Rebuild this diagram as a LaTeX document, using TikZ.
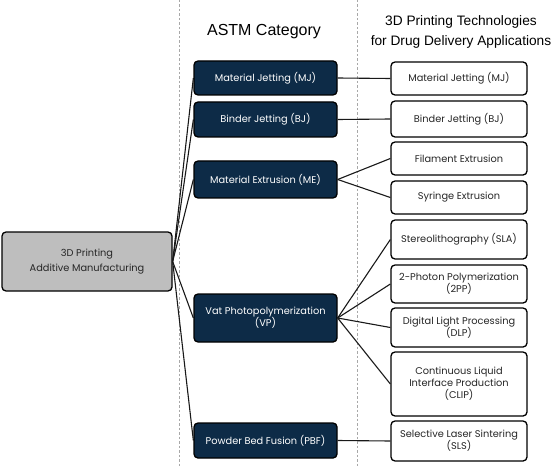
\documentclass[tikz,border=0pt]{standalone}
\usepackage{fontspec}
\setmainfont{Poppins}
\newfontfamily\headfont{Liberation Sans}
\definecolor{navy}{HTML}{0D2B47}
\definecolor{boxgray}{HTML}{BEBEBE}
\definecolor{dashgray}{HTML}{A8A8A8}
\begin{document}
\begin{tikzpicture}[x=1pt,y=-1pt,
  base/.style={draw=black,line width=1.3pt,rounded corners=4pt,align=center,inner sep=2pt,font=\fontsize{9.8}{12}\selectfont},
  cat/.style={base,fill=navy,text=white,minimum width=143pt},
  tech/.style={base,fill=white,text=black!85,minimum width=136pt},
  root/.style={base,fill=boxgray,text=black!85,minimum width=170pt,minimum height=59pt},
  link/.style={line width=1.1pt,draw=black!90},
  sep/.style={draw=dashgray,line width=0.8pt,dash pattern=on 2.5pt off 2pt},
  head/.style={font=\headfont\fontsize{13.7}{19.5}\selectfont,align=center}]
\useasboundingbox (0,0) rectangle (553,470);
\coordinate (s1t) at (179,0); \coordinate (s1b) at (179,466);
\coordinate (s2t) at (357,0); \coordinate (s2b) at (357,466);
\draw[sep] (s1t) -- (s1b);
\draw[sep] (s2t) -- (s2b);
\node[head,font=\headfont\fontsize{16}{19}\selectfont] (h1) at (264,32) {ASTM Category};
\node[head] (h2) at (461,32) {3D Printing Technologies\\for Drug Delivery Applications};
\node[root] (root) at (87,261.5) {3D Printing\\[3pt]Additive Manufacturing};
\node[cat,minimum height=34pt] (mj) at (265.5,78) {Material Jetting (MJ)};
\node[cat,minimum height=35pt] (bj) at (265.5,119.5) {Binder Jetting (BJ)};
\node[cat,minimum height=37pt] (me) at (265.5,179.5) {Material Extrusion (ME)};
\node[cat,minimum height=48pt] (vp) at (265.5,318) {Vat Photopolymerization\\(VP)};
\node[cat,minimum height=35pt] (pbf) at (265.5,440.5) {Powder Bed Fusion (PBF)};
\node[tech,minimum height=33pt] (tmj) at (459,78.5) {Material Jetting (MJ)};
\node[tech,minimum height=36pt] (tbj) at (459,119) {Binder Jetting (BJ)};
\node[tech,minimum height=33pt] (fil) at (459,158.5) {Filament Extrusion};
\node[tech,minimum height=33pt] (syr) at (459,197.5) {Syringe Extrusion};
\node[tech,minimum height=39pt] (sla) at (459,239.5) {Stereolithography (SLA)};
\node[tech,minimum height=38pt] (tpp) at (459,284) {2-Photon Polymerization\\(2PP)};
\node[tech,minimum height=39pt] (dlp) at (459,327.5) {Digital Light Processing\\(DLP)};
\node[tech,minimum height=64pt] (clip) at (459,384) {Continuous Liquid\\Interface Production\\(CLIP)};
\node[tech,minimum height=40pt] (sls) at (459,441) {Selective Laser Sintering\\(SLS)};
\foreach \t in {mj,bj,me,vp,pbf} \draw[link] (root.east) -- (\t.west);
\draw[link] (mj.east) -- (tmj.west);
\draw[link] (bj.east) -- (tbj.west);
\draw[link] (me.east) -- (fil.west);
\draw[link] (me.east) -- (syr.west);
\foreach \t in {sla,tpp,dlp,clip} \draw[link] (vp.east) -- (\t.west);
\draw[link] (pbf.east) -- (sls.west);
\end{tikzpicture}
\end{document}
